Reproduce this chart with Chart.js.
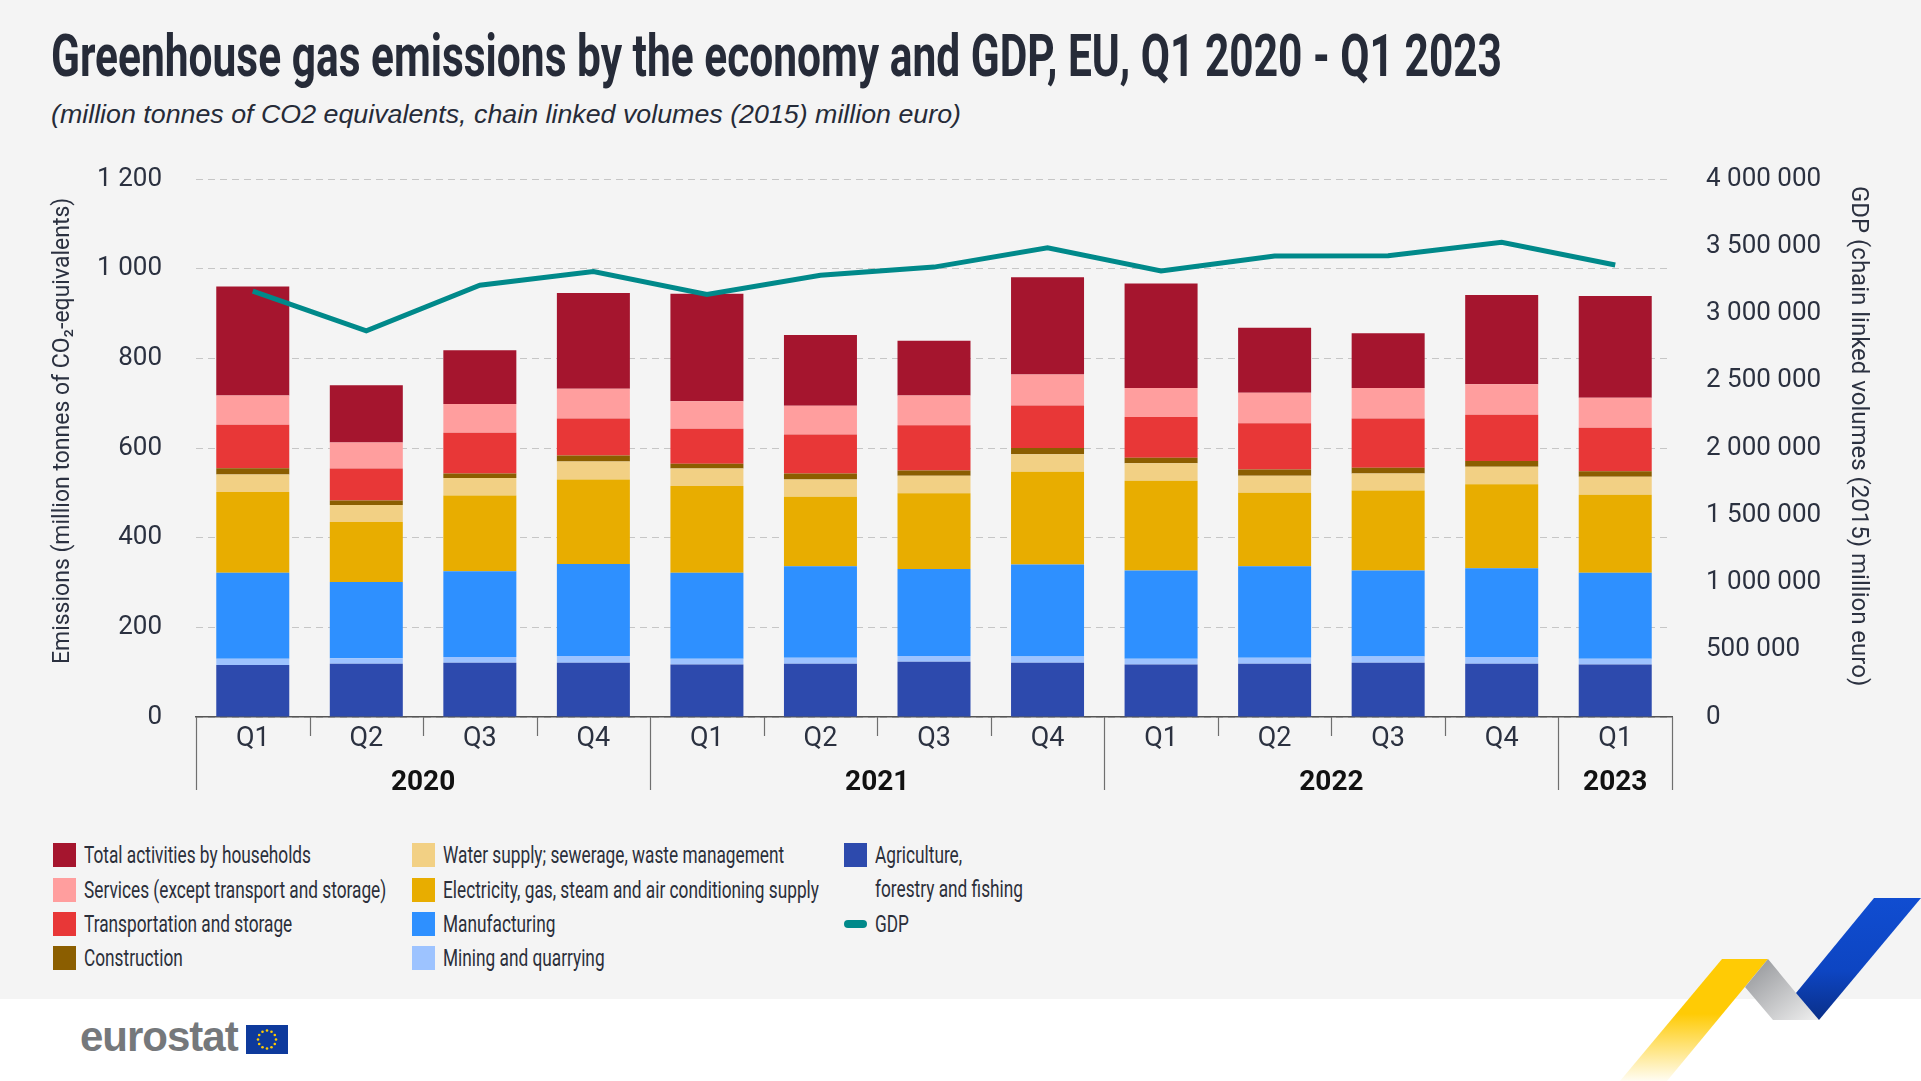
<!DOCTYPE html>
<html>
<head>
<meta charset="utf-8">
<script src="https://cdn.jsdelivr.net/npm/chart.js@4.4.0/dist/chart.umd.min.js"></script>
<style>
    body {
        margin: 0;
        width: 1921px;
        height: 1081px;
        background: #f4f4f4;
        position: relative;
        overflow: hidden;
        font-family: Roboto, 'Liberation Sans', sans-serif;
        color: #262b38;
    }
    #title {
        position: absolute;
        left: 51px;
        top: 26px;
        font-size: 59px;
        line-height: 59px;
        font-weight: bold;
        white-space: nowrap;
        transform-origin: left top;
    }
    #subtitle {
        position: absolute;
        left: 51px;
        top: 100px;
        font-family: 'Liberation Sans', sans-serif;
        font-style: italic;
        font-size: 26px;
        line-height: 28px;
        white-space: nowrap;
        transform-origin: left top;
    }
    #chartBox {
        position: absolute;
        left: 0;
        top: 140px;
        width: 1921px;
        height: 670px;
    }
    .leg {
        position: absolute;
        font-size: 24px;
        line-height: 34px;
        color: #2b2f3a;
        white-space: nowrap;
    }
    .leg i {
        position: absolute;
        left: 0;
        top: 5px;
        width: 23px;
        height: 24px;
    }
    .leg span {
        position: absolute;
        left: 31px;
        top: 0;
        transform-origin: left top;
    }
    #footer {
        position: absolute;
        left: 0;
        top: 999px;
        width: 1921px;
        height: 82px;
        background: #ffffff;
    }
    #logo {
        position: absolute;
        left: 80px;
        top: 1013px;
        font-family: 'Liberation Sans', Arial, sans-serif;
        font-weight: bold;
        font-size: 42px;
        letter-spacing: -1px;
        color: #75787b;
    }
</style>
</head>
<body>
<div id="title">Greenhouse gas emissions by the economy and GDP, EU, Q1 2020 - Q1 2023</div>
<div id="subtitle">(million tonnes of CO2 equivalents, chain linked volumes (2015) million euro)</div>
<div id="chartBox"><canvas id="mixChart"></canvas></div>
<div id="legend"></div>
<div id="footer"></div>
<div id="logo">eurostat</div>
<svg style="position:absolute;left:246px;top:1025px" width="42" height="29" viewBox="0 0 42 29">
    <rect width="42" height="29" fill="#0e3a9c"/>
    <g id="stars" fill="#ffcc00"></g>
</svg>
<svg style="position:absolute;left:1600px;top:890px" width="321" height="191" viewBox="1600 890 321 191">
    <defs>
        <linearGradient id="gy" x1="0" y1="0" x2="0" y2="1">
            <stop offset="0" stop-color="#ffcb05"/>
            <stop offset="0.45" stop-color="#ffcb05"/>
            <stop offset="1" stop-color="#ffcb05" stop-opacity="0.05"/>
        </linearGradient>
        <linearGradient id="gg" x1="0" y1="0" x2="1" y2="1">
            <stop offset="0" stop-color="#8f9195"/>
            <stop offset="1" stop-color="#f0f0f0"/>
        </linearGradient>
        <linearGradient id="gb" x1="0" y1="0" x2="0" y2="1">
            <stop offset="0" stop-color="#104dd1"/>
            <stop offset="0.6" stop-color="#0d45c2"/>
            <stop offset="1" stop-color="#0a2f88"/>
        </linearGradient>
    </defs>
    <polygon points="1722,959 1768,959 1667,1081 1620,1081" fill="url(#gy)"/>
    <polygon points="1768,959 1745,987 1773,1020 1819,1020 1796,993" fill="url(#gg)"/>
    <polygon points="1796,993 1874,898 1921,898 1819,1020" fill="url(#gb)"/>
</svg>

<script>
// EU flag stars
var starG = document.getElementById("stars");
for (var s = 0; s < 12; s++) {
    var a = s * Math.PI / 6;
    var c = document.createElementNS("http://www.w3.org/2000/svg", "circle");
    c.setAttribute("cx", 21 + 9 * Math.cos(a));
    c.setAttribute("cy", 14.5 + 9 * Math.sin(a));
    c.setAttribute("r", 1.3);
    starG.appendChild(c);
}

var quarters = ["Q1", "Q2", "Q3", "Q4", "Q1", "Q2", "Q3", "Q4", "Q1", "Q2", "Q3", "Q4", "Q1"];
var years = ["2020", "2020", "2020", "2020", "2021", "2021", "2021", "2021", "2022", "2022", "2022", "2022", "2023"];

// emissions, million tonnes CO2 equivalents
var agriculture = [116, 119, 121, 121, 117, 119, 123, 121, 117, 119, 121, 119, 117];
var mining = [14, 12, 13, 15, 13, 13, 13, 14, 13, 13, 14, 15, 13];
var manufacturing = [192, 170, 191, 205, 192, 204, 194, 205, 197, 204, 192, 198, 192];
var electricity = [180, 134, 169, 189, 193, 155, 169, 207, 200, 164, 178, 187, 174];
var water = [39, 38, 39, 40, 39, 39, 39, 39, 39, 38, 38, 39, 40];
var construction = [14, 10, 10, 13, 11, 13, 12, 14, 12, 14, 13, 13, 12];
var transport = [97, 71, 91, 83, 78, 87, 101, 95, 91, 103, 110, 103, 97];
var services = [65, 58, 64, 66, 61, 64, 66, 69, 65, 68, 68, 68, 67];
var households = [243, 128, 120, 214, 240, 158, 122, 217, 233, 145, 122, 199, 227];

// GDP, chain linked volumes (2015) million euro
var gdp = [3166000, 2871000, 3210000, 3312000, 3141000, 3284000, 3345000, 3488000, 3317000, 3427000, 3430000, 3529000, 3361000];

var emissionTicks = [0, 200, 400, 600, 800, 1000, 1200];
var gdpTicks = [0, 500000, 1000000, 1500000, 2000000, 2500000, 3000000, 3500000, 4000000];

var textColor = "#2b3140";
var fontStack = "Roboto, 'Liberation Sans', sans-serif";

function spaced(v) {
    return String(v).replace(/\B(?=(\d{3})+(?!\d))/g, " ");
}

// squeeze a text element to a given width (the original uses a condensed face)
function fitWidth(el, target) {
    var w = el.getBoundingClientRect().width;
    el.style.transform = "scaleX(" + (target / w) + ")";
}

function barSet(label, data, color) {
    return {
        type: "bar",
        label: label,
        data: data,
        backgroundColor: color,
        borderWidth: 0,
        yAxisID: "y",
        order: 1,
        barPercentage: 0.643,
        categoryPercentage: 1
    };
}

var datasets = [
    barSet("Agriculture, forestry and fishing", agriculture, "#2d4aad"),
    barSet("Mining and quarrying", mining, "#9dc3ff"),
    barSet("Manufacturing", manufacturing, "#2e90ff"),
    barSet("Electricity, gas, steam and air conditioning supply", electricity, "#e8ad00"),
    barSet("Water supply; sewerage, waste management", water, "#f2d084"),
    barSet("Construction", construction, "#8b5e00"),
    barSet("Transportation and storage", transport, "#e83737"),
    barSet("Services (except transport and storage)", services, "#ff9e9e"),
    barSet("Total activities by households", households, "#a5152e"),
    {
        type: "line",
        label: "GDP",
        data: gdp,
        borderColor: "#00898a",
        backgroundColor: "#00898a",
        borderWidth: 5,
        pointRadius: 0,
        tension: 0,
        yAxisID: "y2",
        order: 0
    }
];

// lines and year labels under the category axis
var yearAxisPlugin = {
    id: "yearAxis",
    afterDraw: function (chart) {
        var ctx = chart.ctx;
        var xs = chart.scales.x;
        var base = chart.chartArea.bottom;
        var half = (xs.getPixelForValue(1) - xs.getPixelForValue(0)) / 2;
        ctx.save();
        ctx.strokeStyle = "#6f6f6f";
        ctx.lineWidth = 1.2;
        var groupStart = 0;
        for (var i = 0; i <= quarters.length; i++) {
            var edge = i < quarters.length ? xs.getPixelForValue(i) - half : xs.getPixelForValue(i - 1) + half;
            var yearEdge = i == 0 || i == quarters.length || years[i] != years[i - 1];
            ctx.beginPath();
            ctx.moveTo(Math.round(edge) + 0.5, base);
            ctx.lineTo(Math.round(edge) + 0.5, base + (yearEdge ? 73 : 19));
            ctx.stroke();
            if (yearEdge && i > 0) {
                var mid = (xs.getPixelForValue(groupStart) + xs.getPixelForValue(i - 1)) / 2;
                ctx.fillStyle = "#111111";
                ctx.font = "bold 28px " + fontStack;
                ctx.textAlign = "center";
                ctx.textBaseline = "alphabetic";
                ctx.fillText(years[i - 1], mid, base + 73);
                groupStart = i;
            }
        }
        ctx.restore();
    }
};

// value axes: fixed width, and keep the tick padding from pushing the plot down
function fixAxis(width) {
    return function (scale) {
        scale.width = width;
        scale.paddingTop = 16;
        scale.paddingBottom = 16;
    };
}

var chart = new Chart("mixChart", {
    data: {
        labels: quarters,
        datasets: datasets
    },
    options: {
        responsive: true,
        maintainAspectRatio: false,
        animation: false,
        layout: {
            padding: { top: 39, left: 0, right: 0, bottom: 0 }
        },
        plugins: {
            legend: { display: false },
            tooltip: { enabled: false }
        },
        scales: {
            x: {
                stacked: true,
                grid: { display: false, drawTicks: false },
                border: { display: true, color: "#555555", width: 1.5 },
                ticks: {
                    color: textColor,
                    padding: 6,
                    font: { family: fontStack, size: 27 }
                },
                afterFit: function (scale) { scale.height = 93; }
            },
            y: {
                stacked: true,
                position: "left",
                min: 0,
                max: 1200,
                afterBuildTicks: function (scale) {
                    scale.ticks = emissionTicks.map(function (v) { return { value: v }; });
                },
                grid: { color: "#c6c6c6", lineWidth: 1, drawTicks: false },
                border: { display: false, dash: [7, 5] },
                ticks: {
                    color: textColor,
                    padding: 34,
                    font: { family: fontStack, size: 26 },
                    callback: function (v) { return spaced(v); }
                },
                title: {
                    display: true,
                    // leading spaces nudge the text a little up, as in the original
                    text: "      Emissions (million tonnes of CO\u2082-equivalents)",
                    color: textColor,
                    padding: { top: 49 },
                    font: { family: fontStack, size: 23 }
                },
                afterFit: fixAxis(196)
            },
            y2: {
                position: "right",
                min: 0,
                max: 4000000,
                afterBuildTicks: function (scale) {
                    scale.ticks = gdpTicks.map(function (v) { return { value: v }; });
                },
                grid: { display: false, drawTicks: false },
                border: { display: false },
                ticks: {
                    color: textColor,
                    padding: 34,
                    font: { family: fontStack, size: 26 },
                    callback: function (v) { return spaced(v); }
                },
                title: {
                    display: true,
                    text: "GDP (chain linked volumes (2015) million euro)    ",
                    color: textColor,
                    padding: { top: 49 },
                    font: { family: fontStack, size: 24 }
                },
                afterFit: fixAxis(249)
            }
        }
    },
    plugins: [yearAxisPlugin]
});

// legend: three columns, read top to bottom, stack order reversed
var legendCols = [53, 412, 844];
var legendRows = [838, 873, 907, 941];
var legendHtml = "";
var slot = 0;
for (var d = datasets.length - 2; d >= 0; d--) {
    var col = Math.floor(slot / 4), row = slot % 4;
    var text = datasets[d].label;
    if (text.indexOf("Agriculture") == 0) text = "Agriculture,<br>forestry and fishing";
    legendHtml += '<div class="leg" style="left:' + legendCols[col] + 'px;top:' + legendRows[row] + 'px">' +
        '<i style="background:' + datasets[d].backgroundColor + '"></i><span>' + text + '</span></div>';
    slot++;
}
var gdpSet = datasets[datasets.length - 1];
legendHtml += '<div class="leg" style="left:' + legendCols[2] + 'px;top:' + legendRows[2] + 'px">' +
    '<i style="background:' + gdpSet.borderColor + ';height:8px;top:13px;border-radius:4px"></i><span>' + gdpSet.label + '</span></div>';
document.getElementById("legend").innerHTML = legendHtml;

fitWidth(document.getElementById("title"), 1451);
fitWidth(document.getElementById("subtitle"), 910);
var spans = document.querySelectorAll(".leg span");
var squeeze = 227 / spans[0].getBoundingClientRect().width;
for (var k = 0; k < spans.length; k++) spans[k].style.transform = "scaleX(" + squeeze + ")";
</script>
</body>
</html>
